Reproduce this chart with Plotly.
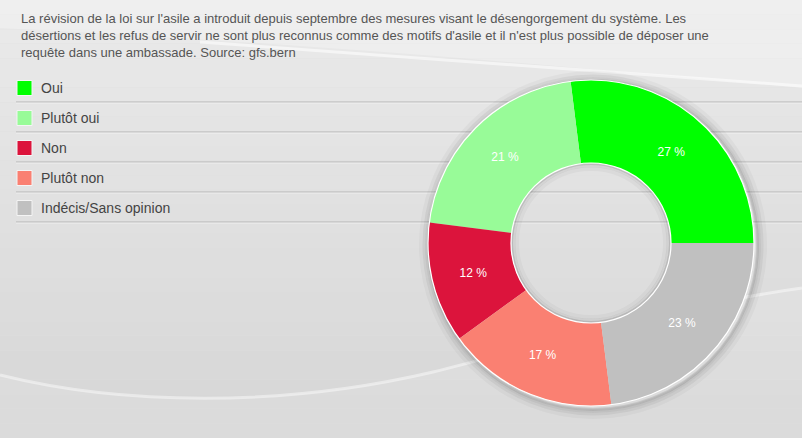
import plotly.graph_objects as go

# ---- data ----
labels = ["Oui", "Plutôt oui", "Non", "Plutôt non", "Indécis/Sans opinion"]
values = [27, 21, 12, 17, 23]
colors = ["#00ff00", "#98fb98", "#dc143c", "#fa8072", "#c0c0c0"]
title_lines = [
    "La révision de la loi sur l'asile a introduit depuis septembre des mesures visant le désengorgement du système. Les",
    "désertions et les refus de servir ne sont plus reconnus comme des motifs d'asile et il n'est plus possible de déposer une",
    "requête dans une ambassade. Source: gfs.bern",
]

W, H = 802, 438
FONT = "Arial, Liberation Sans, sans-serif"


def px(x):
    return x / W


def py(y):
    return 1 - y / H


shapes = []

# background vertical gradient
n = 30
top, bot = (234, 234, 234), (214, 214, 214)
for i in range(n):
    t = i / (n - 1)
    c = tuple(round(top[k] + (bot[k] - top[k]) * t) for k in range(3))
    shapes.append(dict(type="rect", xref="paper", yref="paper", layer="below",
                       x0=0, x1=1, y0=py(H * (i + 1) / n), y1=py(H * i / n),
                       fillcolor="rgb(%d,%d,%d)" % c, line_width=0))

# top swoosh
shapes.append(dict(type="path", xref="paper", yref="paper", layer="below",
                   path=f"M 0,{py(0)} L 0,{py(28)} C {px(250)},{py(40)} {px(500)},{py(60)} {px(802)},{py(88)} L {px(802)},{py(0)} Z",
                   fillcolor="rgba(255,255,255,0.25)", line_width=0))
shapes.append(dict(type="path", xref="paper", yref="paper", layer="below",
                   path=f"M {px(200)},{py(42)} C {px(400)},{py(55)} {px(600)},{py(70)} {px(802)},{py(86)}",
                   line=dict(color="rgba(255,255,255,0.55)", width=3)))
# bottom swoosh
shapes.append(dict(type="path", xref="paper", yref="paper", layer="below",
                   path=f"M 0,{py(375)} C {px(120)},{py(405)} {px(280)},{py(408)} {px(433)},{py(372)} C {px(560)},{py(340)} {px(680)},{py(305)} {px(802)},{py(288)} L {px(802)},{py(438)} L 0,{py(438)} Z",
                   fillcolor="rgba(255,255,255,0.12)", line_width=0))
shapes.append(dict(type="path", xref="paper", yref="paper", layer="below",
                   path=f"M 0,{py(375)} C {px(120)},{py(405)} {px(280)},{py(408)} {px(433)},{py(372)} C {px(560)},{py(340)} {px(680)},{py(305)} {px(802)},{py(288)}",
                   line=dict(color="rgba(255,255,255,0.45)", width=3)))

# legend separator lines
for i in range(len(labels)):
    yl = 102 + 30 * i
    shapes.append(dict(type="line", xref="paper", yref="paper", layer="below",
                       x0=px(16), x1=1, y0=py(yl), y1=py(yl),
                       line=dict(color="#b4b4b4", width=1)))
    shapes.append(dict(type="line", xref="paper", yref="paper", layer="below",
                       x0=px(16), x1=1, y0=py(yl + 1), y1=py(yl + 1),
                       line=dict(color="rgba(255,255,255,0.5)", width=1)))

# donut geometry
cx, cy, R, r = 591, 243, 163, 80

# drop shadow ring behind donut (outside only)
for k, w, a in [(8, 6, 0.03), (5, 5, 0.05), (3, 4, 0.07), (1.5, 3, 0.10)]:
    rr = R + k
    shapes.append(dict(type="circle", xref="paper", yref="paper", layer="below",
                       x0=px(cx + 2 - rr), x1=px(cx + 2 + rr),
                       y0=py(cy + 2 + rr), y1=py(cy + 2 - rr),
                       fillcolor="rgba(0,0,0,0)", line=dict(color=f"rgba(0,0,0,{a})", width=w)))

# inner shadow of hole
for k, w, a in [(1, 2, 0.14), (3, 3, 0.06), (6, 4, 0.03)]:
    rr = r - k
    shapes.append(dict(type="circle", xref="paper", yref="paper", layer="above",
                       x0=px(cx - rr), x1=px(cx + rr), y0=py(cy + rr), y1=py(cy - rr),
                       fillcolor="rgba(0,0,0,0)", line=dict(color=f"rgba(0,0,0,{a})", width=w)))

# white outlines
for rr in (R, r):
    shapes.append(dict(type="circle", xref="paper", yref="paper", layer="above",
                       x0=px(cx - rr), x1=px(cx + rr), y0=py(cy + rr), y1=py(cy - rr),
                       fillcolor="rgba(0,0,0,0)", line=dict(color="white", width=1.2)))

# legend swatches and labels
annotations = []
for i, (lab, col) in enumerate(zip(labels, colors)):
    yc = 88 + 30 * i
    shapes.append(dict(type="rect", xref="paper", yref="paper", layer="above",
                       x0=px(17), x1=px(32), y0=py(yc + 7.5), y1=py(yc - 7.5),
                       fillcolor=col, line=dict(color="#f4f4f4", width=1)))
    annotations.append(dict(xref="paper", yref="paper", x=px(39), y=py(yc),
                            xanchor="left", yanchor="middle", showarrow=False,
                            text=lab, font=dict(family=FONT, size=14, color="#444444")))

annotations.append(dict(xref="paper", yref="paper", x=px(19), y=py(9),
                        xanchor="left", yanchor="top", align="left", showarrow=False,
                        text="<br>".join(title_lines),
                        font=dict(family=FONT, size=13, color="#555555")))

# first slice runs counterclockwise from 3 o'clock
rotation = 90 - 360 * values[0] / sum(values)

fig = go.Figure(go.Pie(
    labels=labels, values=values, sort=False,
    direction="counterclockwise", rotation=rotation,
    hole=r / R,
    marker=dict(colors=colors, line=dict(width=0)),
    texttemplate="%{value} %", textposition="inside",
    insidetextorientation="horizontal",
    textfont=dict(family=FONT, size=12, color="white"),
    domain=dict(x=[px(cx - R), px(cx + R)], y=[py(cy + R), py(cy - R)]),
    showlegend=False, hoverinfo="label+percent",
))

fig.update_layout(
    width=W, height=H, margin=dict(l=0, r=0, t=0, b=0),
    paper_bgcolor="#dedede", plot_bgcolor="#dedede",
    shapes=shapes, annotations=annotations,
)

fig.write_html("out.html")
